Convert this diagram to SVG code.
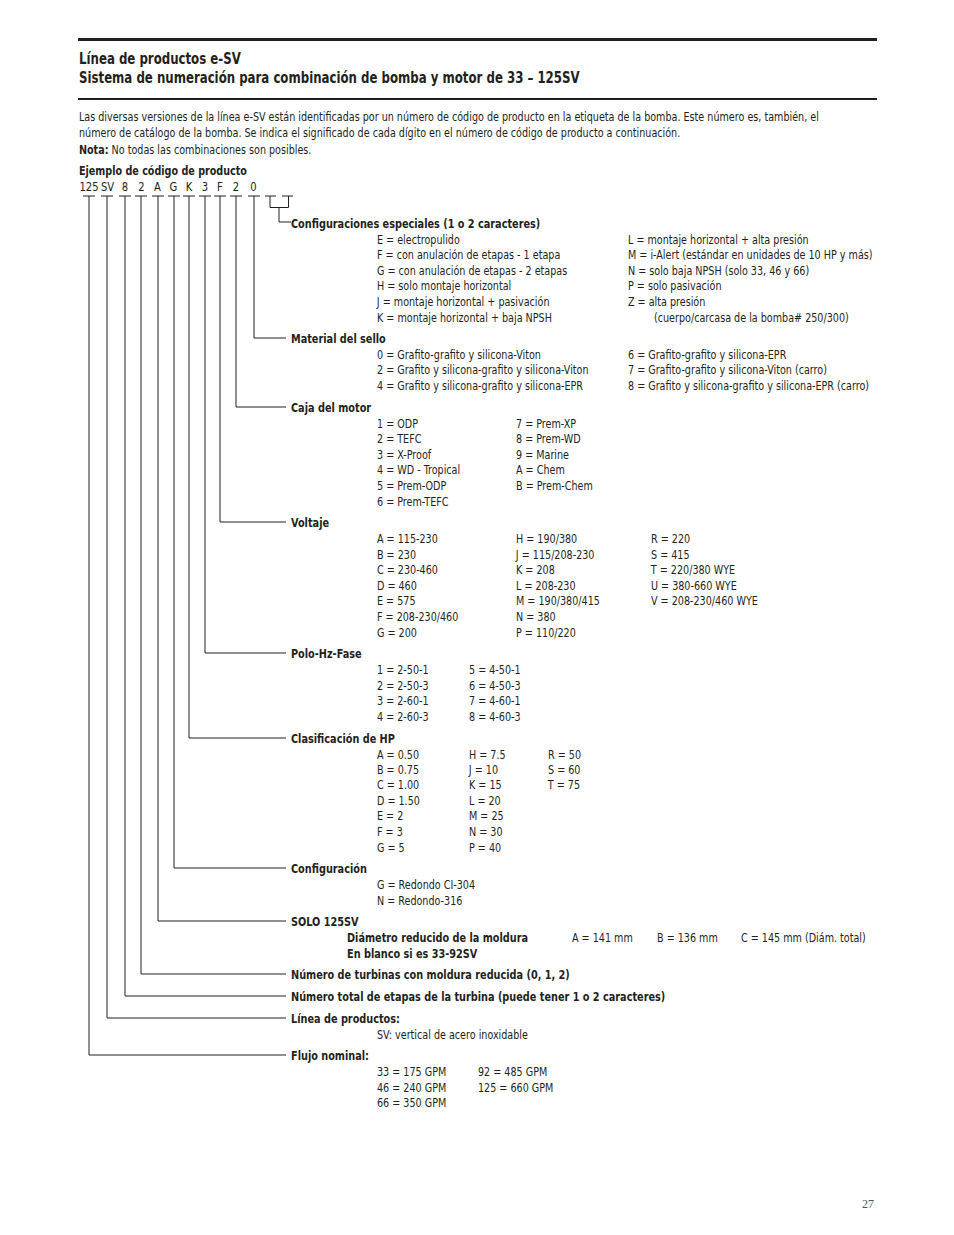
<svg xmlns="http://www.w3.org/2000/svg" width="954" height="1235" viewBox="0 0 954 1235">
<style>
text{font-family:"Liberation Sans Narrow","DejaVu Sans Condensed","Liberation Sans",sans-serif;fill:#231f20;font-size:12.5px;transform-box:fill-box;transform-origin:0 50%;transform:scaleX(.855)}
.b{font-weight:bold}
.t{font-weight:bold;font-size:15.5px;transform:scaleX(.845)}
.lbl{font-weight:bold;font-size:12.5px;transform:scaleX(.865)}
.c{text-anchor:middle;font-size:13px;transform-origin:50% 50%}
.conn line,.conn path{stroke:#231f20;stroke-width:1;fill:none}
.pg{font-family:"Liberation Serif",serif;font-size:12px;fill:#555;transform:none}
</style>
<rect width="954" height="1235" fill="#fff"/>
<g id="header">
<rect x="78" y="38" width="799" height="3" fill="#231f20"/>
<text class="t" x="79" y="64.5">Línea de productos e-SV</text>
<text class="t" x="79" y="83.5">Sistema de numeración para combinación de bomba y motor de 33 – 125SV</text>
<rect x="78" y="98" width="799" height="2" fill="#231f20"/>
</g>
<g id="intro">
<text x="79" y="121">Las diversas versiones de la línea e-SV están identificadas por un número de código de producto en la etiqueta de la bomba. Este número es, también, el</text>
<text x="79" y="137.5">número de catálogo de la bomba. Se indica el significado de cada dígito en el número de código de producto a continuación.</text>
<text x="79" y="154"><tspan class="b">Nota:</tspan> No todas las combinaciones son posibles.</text>
<text class="b" x="79" y="175">Ejemplo de código de producto</text>
</g>
<g id="code">
<text class="c" x="89" y="191">125</text>
<text class="c" x="107.5" y="191">SV</text>
<text class="c" x="125" y="191">8</text>
<text class="c" x="141.5" y="191">2</text>
<text class="c" x="157.5" y="191">A</text>
<text class="c" x="173.5" y="191">G</text>
<text class="c" x="189" y="191">K</text>
<text class="c" x="205" y="191">3</text>
<text class="c" x="220" y="191">F</text>
<text class="c" x="236" y="191">2</text>
<text class="c" x="253.5" y="191">0</text>
</g>
<g class="conn" id="connectors">
<path d="M83 196H95M101 196H113M119 196H131M135 196H147M152 196H164M168 196H180M183 196H195M199 196H211M214 196H226M230 196H242M248 196H260"/>
<path d="M265 196H276M282 196H293M270 196V207.5H288.5V196M279 207.5V222H291"/>
<path d="M254 196V338H286"/>
<path d="M236 196V407H286"/>
<path d="M220 196V522H286"/>
<path d="M205 196V653H286"/>
<path d="M189 196V738H286"/>
<path d="M174 196V868H286"/>
<path d="M158 196V921H286"/>
<path d="M141 196V974H286"/>
<path d="M125 196V996H286"/>
<path d="M107 196V1018H286"/>
<path d="M89 196V1055H286"/>
</g>
<g id="n-config-esp">
<text class="lbl" x="291" y="228">Configuraciones especiales (1 o 2 caracteres)</text>
<text x="377" y="244">E = electropulido</text>
<text x="377" y="259.5">F = con anulación de etapas - 1 etapa</text>
<text x="377" y="275">G = con anulación de etapas - 2 etapas</text>
<text x="377" y="290.5">H = solo montaje horizontal</text>
<text x="377" y="306">J = montaje horizontal + pasivación</text>
<text x="377" y="322">K = montaje horizontal + baja NPSH</text>
<text x="628" y="244">L = montaje horizontal + alta presión</text>
<text x="628" y="259.5">M = i-Alert (estándar en unidades de 10 HP y más)</text>
<text x="628" y="275">N = solo baja NPSH (solo 33, 46 y 66)</text>
<text x="628" y="290.5">P = solo pasivación</text>
<text x="628" y="306">Z = alta presión</text>
<text x="654" y="322">(cuerpo/carcasa de la bomba# 250/300)</text>
</g>
<g id="n-sello">
<text class="lbl" x="291" y="343">Material del sello</text>
<text x="377" y="359">0 = Grafito-grafito y silicona-Viton</text>
<text x="377" y="374.5">2 = Grafito y silicona-grafito y silicona-Viton</text>
<text x="377" y="390">4 = Grafito y silicona-grafito y silicona-EPR</text>
<text x="628" y="359">6 = Grafito-grafito y silicona-EPR</text>
<text x="628" y="374.5">7 = Grafito-grafito y silicona-Viton (carro)</text>
<text x="628" y="390">8 = Grafito y silicona-grafito y silicona-EPR (carro)</text>
</g>
<g id="n-caja">
<text class="lbl" x="291" y="412">Caja del motor</text>
<text x="377" y="428">1 = ODP</text>
<text x="377" y="443.5">2 = TEFC</text>
<text x="377" y="459">3 = X-Proof</text>
<text x="377" y="474.5">4 = WD - Tropical</text>
<text x="377" y="490">5 = Prem-ODP</text>
<text x="377" y="506">6 = Prem-TEFC</text>
<text x="516" y="428">7 = Prem-XP</text>
<text x="516" y="443.5">8 = Prem-WD</text>
<text x="516" y="459">9 = Marine</text>
<text x="516" y="474.5">A = Chem</text>
<text x="516" y="490">B = Prem-Chem</text>
</g>
<g id="n-voltaje">
<text class="lbl" x="291" y="527">Voltaje</text>
<text x="377" y="543">A = 115-230</text>
<text x="377" y="559">B = 230</text>
<text x="377" y="574.5">C = 230-460</text>
<text x="377" y="590">D = 460</text>
<text x="377" y="605.5">E = 575</text>
<text x="377" y="621">F = 208-230/460</text>
<text x="377" y="637">G = 200</text>
<text x="516" y="543">H = 190/380</text>
<text x="516" y="559">J = 115/208-230</text>
<text x="516" y="574.5">K = 208</text>
<text x="516" y="590">L = 208-230</text>
<text x="516" y="605.5">M = 190/380/415</text>
<text x="516" y="621">N = 380</text>
<text x="516" y="637">P = 110/220</text>
<text x="651" y="543">R = 220</text>
<text x="651" y="559">S = 415</text>
<text x="651" y="574.5">T = 220/380 WYE</text>
<text x="651" y="590">U = 380-660 WYE</text>
<text x="651" y="605.5">V = 208-230/460 WYE</text>
</g>
<g id="n-polo">
<text class="lbl" x="291" y="658">Polo-Hz-Fase</text>
<text x="377" y="674">1 = 2-50-1</text>
<text x="377" y="690">2 = 2-50-3</text>
<text x="377" y="705">3 = 2-60-1</text>
<text x="377" y="721">4 = 2-60-3</text>
<text x="469" y="674">5 = 4-50-1</text>
<text x="469" y="690">6 = 4-50-3</text>
<text x="469" y="705">7 = 4-60-1</text>
<text x="469" y="721">8 = 4-60-3</text>
</g>
<g id="n-hp">
<text class="lbl" x="291" y="743">Clasificación de HP</text>
<text x="377" y="759">A = 0.50</text>
<text x="377" y="774">B = 0.75</text>
<text x="377" y="789.5">C = 1.00</text>
<text x="377" y="805">D = 1.50</text>
<text x="377" y="820.5">E = 2</text>
<text x="377" y="836">F = 3</text>
<text x="377" y="852">G = 5</text>
<text x="469" y="759">H = 7.5</text>
<text x="469" y="774">J = 10</text>
<text x="469" y="789.5">K = 15</text>
<text x="469" y="805">L = 20</text>
<text x="469" y="820.5">M = 25</text>
<text x="469" y="836">N = 30</text>
<text x="469" y="852">P = 40</text>
<text x="548" y="759">R = 50</text>
<text x="548" y="774">S = 60</text>
<text x="548" y="789.5">T = 75</text>
</g>
<g id="n-configuracion">
<text class="lbl" x="291" y="873">Configuración</text>
<text x="377" y="889">G = Redondo CI-304</text>
<text x="377" y="905">N = Redondo-316</text>
</g>
<g id="n-solo">
<text class="lbl" x="291" y="926">SOLO 125SV</text>
<text class="lbl" x="347" y="942">Diámetro reducido de la moldura</text>
<text class="lbl" x="347" y="958">En blanco si es 33-92SV</text>
<text x="572" y="942">A = 141 mm</text>
<text x="657" y="942">B = 136 mm</text>
<text x="741" y="942">C = 145 mm (Diám. total)</text>
</g>
<g id="n-turbinas">
<text class="lbl" x="291" y="979">Número de turbinas con moldura reducida (0, 1, 2)</text>
</g>
<g id="n-etapas">
<text class="lbl" x="291" y="1001">Número total de etapas de la turbina (puede tener 1 o 2 caracteres)</text>
</g>
<g id="n-linea">
<text class="lbl" x="291" y="1023">Línea de productos:</text>
<text x="377" y="1039">SV: vertical de acero inoxidable</text>
</g>
<g id="n-flujo">
<text class="lbl" x="291" y="1060">Flujo nominal:</text>
<text x="377" y="1076">33 = 175 GPM</text>
<text x="377" y="1092">46 = 240 GPM</text>
<text x="377" y="1107">66 = 350 GPM</text>
<text x="478" y="1076">92 = 485 GPM</text>
<text x="478" y="1092">125 = 660 GPM</text>
</g>
<text class="pg" x="862" y="1208">27</text>
</svg>
